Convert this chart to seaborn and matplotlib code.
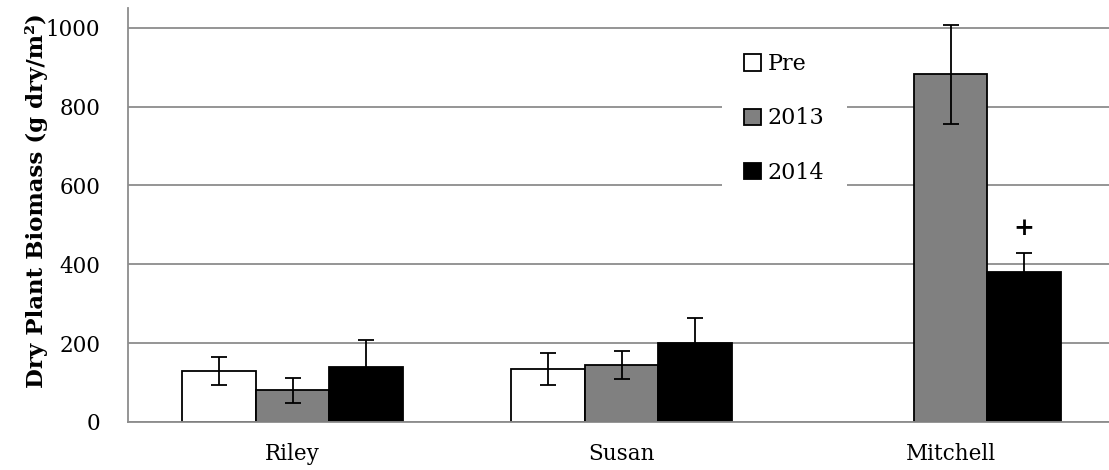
import numpy as np
import pandas as pd
import matplotlib
matplotlib.use("Agg")
import matplotlib.pyplot as plt
import seaborn as sns

# Dry plant biomass by site and sampling period (g dry / m^2)
sites = ["Riley", "Susan", "Mitchell"]
periods = ["Pre", "2013", "2014"]
pre_mean = [130, 135, np.nan]
mean_2013 = [80, 145, 882]
mean_2014 = [140, 200, 380]
pre_err = [35, 41, np.nan]
err_2013 = [32, 35, 126]
err_2014 = [68, 65, 48]
flag_label = "+"          # marks Mitchell 2014
flag_site = "Mitchell"
flag_period = "2014"

means = {"Pre": pre_mean, "2013": mean_2013, "2014": mean_2014}
errs = {"Pre": pre_err, "2013": err_2013, "2014": err_2014}

df = pd.DataFrame(
    [(s, p, means[p][i]) for p in periods for i, s in enumerate(sites)],
    columns=["site", "period", "biomass"],
).dropna()

sns.set_theme(style="white")
plt.rcParams["font.family"] = ["DejaVu Serif"]
plt.rcParams["text.color"] = "black"
plt.rcParams["axes.labelcolor"] = "black"

W, H = 1109, 470
fig = plt.figure(figsize=(W / 100, H / 100), dpi=100)
ax = fig.add_axes([128 / W, 48 / H, 987 / W, 414 / H])

palette = {"Pre": "#ffffff", "2013": "#808080", "2014": "#000000"}
sns.barplot(
    data=df, x="site", y="biomass", hue="period",
    order=sites, hue_order=periods, palette=palette, saturation=1,
    width=0.67, edgecolor="black", linewidth=1.3, errorbar=None, ax=ax,
)

# error bars at each drawn bar
flag_xy = None
for cont, per in zip(ax.containers, periods):
    for bar in cont:
        h = bar.get_height()
        if not np.isfinite(h):
            continue
        x = bar.get_x() + bar.get_width() / 2
        i = int(round(x))
        e = errs[per][i]
        ax.errorbar(x, h, yerr=e, color="black", lw=1.3,
                    capsize=5.5, capthick=1.3, zorder=4)
        if sites[i] == flag_site and per == flag_period:
            flag_xy = (x, h + e)

if flag_xy is not None:
    ax.annotate(flag_label, xy=flag_xy, xytext=(0, 18), textcoords="offset points",
                ha="center", va="center", fontsize=18, fontweight="bold",
                color="black")

ax.set_xlim(-0.5, 2.5)
ax.set_ylim(0, 1050)
ax.set_yticks(range(0, 1001, 200))
ax.yaxis.grid(True, color="#8c8c8c", linewidth=1.3)
ax.set_axisbelow(True)
for side in ["top", "right"]:
    ax.spines[side].set_visible(False)
for side in ["left", "bottom"]:
    ax.spines[side].set_color("#8c8c8c")
    ax.spines[side].set_linewidth(1.3)

ax.tick_params(axis="x", length=0, pad=15, labelsize=15.5, colors="black")
ax.tick_params(axis="y", length=0, pad=20, labelsize=15.5, colors="black")
ax.set_xlabel("")
ax.set_ylabel("Dry Plant Biomass (g dry/m²)", fontsize=16.5, fontweight="bold",
              color="black")
ax.yaxis.set_label_coords(-0.081, 0.535)

handles, labels = ax.get_legend_handles_labels()
leg = ax.legend(
    handles, labels, loc="upper left",
    bbox_to_anchor=(722 / W, 1 - 31 / H), bbox_transform=fig.transFigure,
    frameon=True, facecolor="white", edgecolor="none", framealpha=1,
    fancybox=False, fontsize=16, handlelength=0.75, handleheight=0.75,
    handletextpad=0.3, labelspacing=1.45, borderpad=1.0, borderaxespad=0,
)
for t in leg.get_texts():
    t.set_color("black")

fig.savefig("out.png", dpi=100, facecolor="white")
